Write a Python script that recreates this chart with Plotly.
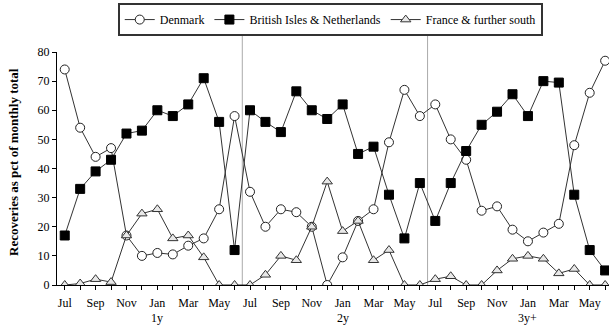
import plotly.graph_objects as go

months = ["Jul", "Aug", "Sep", "Oct", "Nov", "Dec", "Jan", "Feb", "Mar", "Apr", "May", "Jun"] * 3
tick_labels = ["Jul", "", "Sep", "", "Nov", "", "Jan", "", "Mar", "", "May", ""] * 3
year_labels = ["1y", "2y", "3y+"]

denmark = [74, 54, 44, 47, 17, 10, 11, 10.5, 13.5, 16, 26, 58,
           32, 20, 26, 25, 20, 0, 9.5, 22, 26, 49, 67, 58,
           62, 50, 43, 25.5, 27, 19, 15, 18, 21, 48, 66, 77]
british = [17, 33, 39, 43, 52, 53, 60, 58, 62, 71, 56, 12,
           60, 56, 52.5, 66.5, 60, 57, 62, 45, 47.5, 31, 16, 35,
           22, 35, 46, 55, 59.5, 65.5, 58, 70, 69.5, 31, 12, 5]
france = [0, 0.5, 2, 1, 17, 24.5, 26, 16, 17, 9.5, 0, 0,
          0, 3.5, 10, 8.5, 20, 35.5, 18.5, 22, 8.5, 12, 0, 0,
          2, 3, 0, 0, 5, 9, 10, 9, 4, 5.5, 0, 0]

x = list(range(len(months)))
FONT = "Liberation Serif"

fig = go.Figure()
fig.add_trace(go.Scatter(x=x, y=denmark, name="Denmark", mode="lines+markers",
                         line=dict(color="#333333", width=1),
                         marker=dict(symbol="circle", size=9, color="white",
                                     line=dict(color="#222222", width=1))))
fig.add_trace(go.Scatter(x=x, y=british, name="British Isles & Netherlands", mode="lines+markers",
                         line=dict(color="#333333", width=1),
                         marker=dict(symbol="square", size=9, color="black",
                                     line=dict(color="black", width=1))))
fig.add_trace(go.Scatter(x=x, y=france, name="France & further south", mode="lines+markers",
                         line=dict(color="#333333", width=1),
                         marker=dict(symbol="triangle-up", size=9, color="#e8e8e8",
                                     line=dict(color="#333333", width=1))))

# year separators
for sx in [11.5, 23.5]:
    fig.add_shape(type="line", xref="x", yref="paper", x0=sx, x1=sx, y0=0, y1=1.105,
                  line=dict(color="#aaaaaa", width=1), layer="below")

for i, lab in enumerate(year_labels):
    fig.add_annotation(x=6 + 12 * i, y=-0.14, xref="x", yref="paper", text=lab,
                       showarrow=False, yanchor="middle",
                       font=dict(family=FONT, size=12, color="black"))

# y axis title placed as annotation
fig.add_annotation(x=-0.078, y=0.528, xref="paper", yref="paper",
                   text="<b>Recoveries as pct of monthly total</b>", textangle=-90,
                   showarrow=False, xanchor="center", yanchor="middle",
                   font=dict(family=FONT, size=13, color="black"))

fig.update_layout(
    width=609, height=335,
    margin=dict(l=57, r=0, t=52, b=50),
    paper_bgcolor="white", plot_bgcolor="white",
    font=dict(family=FONT, size=11, color="black"),
    showlegend=True,
    legend=dict(orientation="h", x=0.495, xanchor="center", y=1.21, yanchor="top",
                bordercolor="#333333", borderwidth=2, bgcolor="white",
                font=dict(family=FONT, size=12, color="black"),
                itemwidth=30, tracegroupgap=0),
)
fig.update_xaxes(range=[-0.5, 35.25], tickmode="array", tickvals=x, ticktext=tick_labels,
                 ticks="outside", ticklen=4, tickcolor="black", showline=True,
                 linecolor="black", linewidth=1, showgrid=False, zeroline=False,
                 ticklabelstandoff=3,
                 tickfont=dict(family=FONT, size=12))
fig.update_yaxes(range=[0, 80], dtick=10, ticks="outside", ticklen=4, tickcolor="black",
                 showline=True, linecolor="black", linewidth=1, showgrid=False,
                 zeroline=False, tickfont=dict(family=FONT, size=12))

fig.write_html("out.html")
